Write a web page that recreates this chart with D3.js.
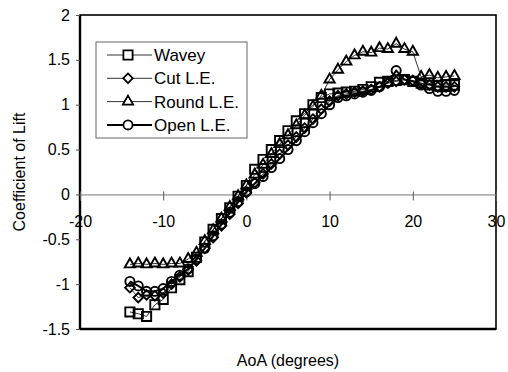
<!DOCTYPE html>
<html>
<head>
<meta charset="utf-8">
<script src="https://cdn.jsdelivr.net/npm/d3@7"></script>
<style>
  html, body { margin: 0; padding: 0; background: #fff; }
  svg { display: block; font-family: Arial, "Liberation Sans", sans-serif; }
</style>
</head>
<body>
<svg id="chart" width="508" height="372"></svg>
<script>
// ---- data ----
const aoa = [-14,-13,-12,-11,-10,-9,-8,-7,-6,-5,-4,-3,-2,-1,0,1,2,3,4,5,6,7,8,9,10,11,12,13,14,15,16,17,18,19,20,21,22,23,24,25];
const wavey = [-1.31,-1.33,-1.36,-1.23,-1.17,-1.04,-0.95,-0.86,-0.70,-0.53,-0.39,-0.27,-0.15,-0.02,0.10,0.28,0.39,0.50,0.60,0.71,0.82,0.90,1.00,1.08,1.12,1.13,1.14,1.15,1.17,1.20,1.25,1.26,1.27,1.28,1.26,1.24,1.22,1.21,1.22,1.22];
const cutLE = [-1.04,-1.15,-1.12,-1.13,-1.10,-1.00,-0.92,-0.84,-0.74,-0.60,-0.48,-0.35,-0.22,-0.10,0.02,0.13,0.23,0.34,0.45,0.55,0.64,0.74,0.84,0.95,1.04,1.10,1.12,1.14,1.15,1.17,1.20,1.24,1.26,1.28,1.27,1.24,1.22,1.20,1.20,1.20];
const roundLE = [-0.78,-0.77,-0.78,-0.77,-0.78,-0.77,-0.77,-0.72,-0.65,-0.52,-0.40,-0.27,-0.14,-0.02,0.10,0.22,0.33,0.45,0.56,0.66,0.77,0.88,0.98,1.10,1.28,1.39,1.48,1.55,1.59,1.58,1.63,1.62,1.68,1.62,1.59,1.31,1.33,1.30,1.31,1.32];
const openLE = [-0.97,-1.02,-1.08,-1.08,-1.05,-0.97,-0.90,-0.83,-0.72,-0.60,-0.46,-0.33,-0.20,-0.08,0.03,0.12,0.20,0.30,0.40,0.50,0.60,0.70,0.80,0.90,1.00,1.08,1.10,1.12,1.14,1.16,1.20,1.25,1.38,1.28,1.26,1.22,1.18,1.15,1.15,1.16];
const seriesNames = ["Wavey", "Cut L.E.", "Round L.E.", "Open L.E."];
const xTicks = [-20,-10,0,10,20,30];
const xTickLabels = ["-20","-10","0","10","20","30"];
const yTicks = [-1.5,-1,-0.5,0,0.5,1,1.5,2];
const yTickLabels = ["-1.5","-1","-0.5","0","0.5","1","1.5","2"];
const xTitle = "AoA (degrees)";
const yTitle = "Coefficient of Lift";

// ---- layout ----
const L = 80, R = 496, T = 15, B = 329;
const svg = d3.select("#chart");
const x = d3.scaleLinear().domain([-20,30]).range([L,R]);
const y = d3.scaleLinear().domain([-1.5,2]).range([B,T]);

const markers = {
  "Wavey": d3.symbol().type(d3.symbolSquare).size(85),
  "Cut L.E.": d3.symbol().type(d3.symbolSquare).size(46),
  "Round L.E.": d3.symbol().type(d3.symbolTriangle).size(46),
  "Open L.E.": d3.symbol().type(d3.symbolCircle).size(66)
};
const rot = { "Cut L.E.": 45 };
const lineW = { "Wavey": 0.8, "Cut L.E.": 0.8, "Round L.E.": 0.8, "Open L.E.": 2 };

// frame
svg.append("rect").attr("x", L).attr("y", T).attr("width", R-L).attr("height", B-T)
  .attr("fill", "none").attr("stroke", "#000").attr("stroke-width", 1.6);
svg.append("line").attr("x1", L).attr("x2", L).attr("y1", T).attr("y2", B).attr("stroke", "#000").attr("stroke-width", 2.4);
svg.append("line").attr("x1", L).attr("x2", R).attr("y1", B).attr("y2", B).attr("stroke", "#000").attr("stroke-width", 2.4);

// y axis
const yAxis = d3.axisLeft(y).tickValues(yTicks).tickSize(4).tickPadding(6)
  .tickFormat((d,i) => yTickLabels[i]);
const gy = svg.append("g").attr("transform", `translate(${L},0)`).call(yAxis);
gy.select(".domain").remove();
gy.selectAll("text").attr("font-size", 16).attr("fill", "#000").attr("font-family", "Arial, 'Liberation Sans', sans-serif");
gy.selectAll("line").attr("stroke", "#555");

// x axis at y=0
const xAxis = d3.axisBottom(x).tickValues(xTicks).tickSize(6).tickPadding(15)
  .tickFormat((d,i) => xTickLabels[i]);
const gx = svg.append("g").attr("transform", `translate(0,${y(0)})`).call(xAxis);
gx.select(".domain").attr("stroke", "#777").attr("stroke-width", 1);
gx.selectAll(".tick line").attr("y1", -3).attr("y2", 6).attr("stroke", "#555");
gx.selectAll("text").attr("font-size", 16).attr("fill", "#000").attr("font-family", "Arial, 'Liberation Sans', sans-serif");

// titles
svg.append("text").attr("x", 288).attr("y", 366).attr("text-anchor", "middle")
  .attr("font-size", 16).text(xTitle);
svg.append("text").attr("transform", `translate(25,${(T+B)/2}) rotate(-90)`)
  .attr("text-anchor", "middle").attr("font-size", 16).text(yTitle);

// series
const allSeries = [
  { name: "Wavey", vals: wavey },
  { name: "Cut L.E.", vals: cutLE },
  { name: "Round L.E.", vals: roundLE },
  { name: "Open L.E.", vals: openLE }
];
const line = d3.line().x(d => x(d[0])).y(d => y(d[1]));
allSeries.forEach(s => {
  const pts = aoa.map((a,i) => [a, s.vals[i]]);
  svg.append("path").attr("d", line(pts)).attr("fill", "none")
    .attr("stroke", "#000").attr("stroke-width", lineW[s.name]);
});
allSeries.forEach(s => {
  const pts = aoa.map((a,i) => [a, s.vals[i]]);
  svg.append("g").selectAll("path").data(pts).join("path")
    .attr("d", markers[s.name]())
    .attr("transform", d => `translate(${x(d[0])},${y(d[1])})` + (rot[s.name] ? ` rotate(${rot[s.name]})` : ""))
    .attr("fill", "none").attr("stroke", "#000").attr("stroke-width", 1.9);
});

// legend
const lg = svg.append("g");
lg.append("rect").attr("x", 96).attr("y", 42).attr("width", 151).attr("height", 96)
  .attr("fill", "#fff").attr("stroke", "#666").attr("stroke-width", 1);
seriesNames.forEach((n, i) => {
  const cy = 55 + i * 23.3;
  lg.append("line").attr("x1", 107).attr("x2", 152).attr("y1", cy).attr("y2", cy)
    .attr("stroke", "#000").attr("stroke-width", lineW[n] === 2 ? 2 : 0.8);
  lg.append("path").attr("d", markers[n]())
    .attr("transform", `translate(128,${cy})` + (rot[n] ? ` rotate(${rot[n]})` : ""))
    .attr("fill", "#fff").attr("stroke", "#000").attr("stroke-width", 1.8);
  lg.append("text").attr("x", 154).attr("y", cy + 6).attr("font-size", 17).text(n);
});
</script>
</body>
</html>
